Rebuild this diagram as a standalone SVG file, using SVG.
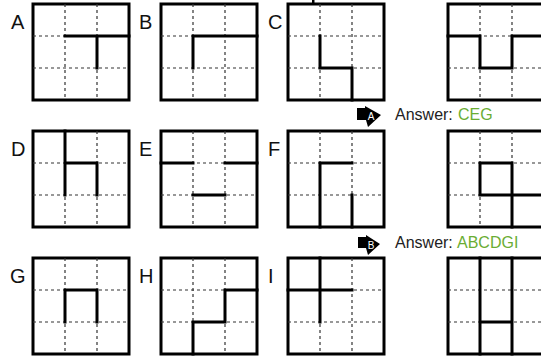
<svg xmlns="http://www.w3.org/2000/svg" width="541" height="356" viewBox="0 0 541 356">
<style>
.frame{fill:#fff;stroke:#000;stroke-width:3}
.dash{stroke:#333;stroke-width:1.2;stroke-dasharray:3 3;fill:none}
.seg{stroke:#000;stroke-width:3;fill:none;stroke-linecap:square;stroke-linejoin:miter}
.lbl{font-family:"Liberation Sans",Arial,sans-serif;font-size:20px;fill:#111}
.ans{font-family:"Liberation Sans",Arial,sans-serif;font-size:16px;fill:#222}
.grn{fill:#6aad33}
.icon{fill:#000}
.ilet{font-family:"Liberation Sans",Arial,sans-serif;font-size:10px;fill:#fff;text-anchor:middle}
</style>
<defs>
<g id="grid">
<rect class="frame" x="0" y="0" width="96" height="96"/>
<path class="dash" d="M32,0V96M64,0V96M0,32H96M0,64H96"/>
</g>
</defs>
<rect x="312" y="0" width="2.5" height="4" fill="#000"/>
<g id="nodeA" transform="translate(33,4)">
<use href="#grid"/>
<path class="seg" d="M32,32H96M64,32V64"/>
</g>
<text class="lbl" x="11" y="29">A</text>
<g id="nodeB" transform="translate(161,4)">
<use href="#grid"/>
<path class="seg" d="M96,32H32V64"/>
</g>
<text class="lbl" x="139" y="29">B</text>
<g id="nodeC" transform="translate(288,4)">
<use href="#grid"/>
<path class="seg" d="M32,32V64H64V96"/>
</g>
<text class="lbl" x="268" y="29">C</text>
<g id="nodeQ1" transform="translate(448,4)">
<use href="#grid"/>
<path class="seg" d="M0,32H32V64H64V32H96"/>
</g>
<g id="nodeD" transform="translate(33,131)">
<use href="#grid"/>
<path class="seg" d="M32,0V64M32,32H64V64"/>
</g>
<text class="lbl" x="11" y="156">D</text>
<g id="nodeE" transform="translate(161,131)">
<use href="#grid"/>
<path class="seg" d="M0,32H32M64,32H96M32,64H64"/>
</g>
<text class="lbl" x="139" y="156">E</text>
<g id="nodeF" transform="translate(288,131)">
<use href="#grid"/>
<path class="seg" d="M32,96V32H64M64,64V96"/>
</g>
<text class="lbl" x="268" y="156">F</text>
<g id="nodeQ2" transform="translate(448,131)">
<use href="#grid"/>
<path class="seg" d="M32,32H64V96M32,32V64H96"/>
</g>
<g id="nodeG" transform="translate(33,258)">
<use href="#grid"/>
<path class="seg" d="M32,64V32H64V64"/>
</g>
<text class="lbl" x="10" y="283">G</text>
<g id="nodeH" transform="translate(161,258)">
<use href="#grid"/>
<path class="seg" d="M32,96V64H64V32H96"/>
</g>
<text class="lbl" x="139" y="283">H</text>
<g id="nodeI" transform="translate(288,258)">
<use href="#grid"/>
<path class="seg" d="M32,0V64M0,32H64"/>
</g>
<text class="lbl" x="268" y="283">I</text>
<g id="nodeQ3" transform="translate(448,258)">
<use href="#grid"/>
<path class="seg" d="M32,0V96M64,0V96M32,64H64"/>
</g>
<g id="connectors">
<g id="iconA">
<path class="icon" d="M357,108H365V106L381,115L368,127L366,120H357Z"/>
<text class="ilet" x="371" y="120">A</text>
</g>
<g id="iconB">
<path class="icon" d="M358,237H366V235L380,244L368,255L366,248H358Z"/>
<text class="ilet" x="371" y="249">B</text>
</g>
</g>
<text class="ans" x="395" y="120">Answer: <tspan class="grn" x="458">CEG</tspan></text>
<text class="ans" x="395" y="248">Answer: <tspan class="grn" x="457">ABCDGI</tspan></text>
</svg>
